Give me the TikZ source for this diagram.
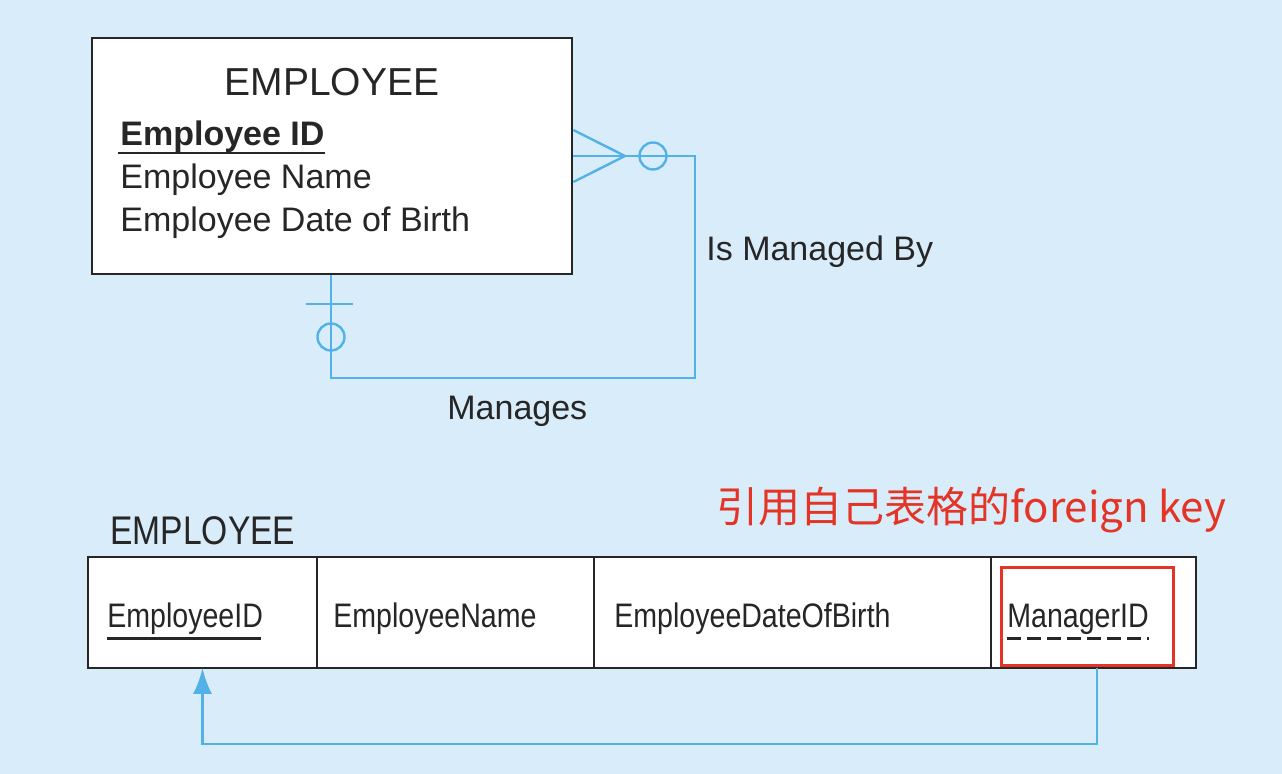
\documentclass[tikz,border=0pt]{standalone}
\usepackage{fontspec}
\setmainfont{Liberation Sans}
\newfontfamily\narrowsans[FakeStretch=0.84]{Liberation Sans}
\newfontfamily\cjk{Noto Sans CJK SC}
\usetikzlibrary{positioning,calc,arrows.meta}
\definecolor{bgblue}{RGB}{216,236,250}
\definecolor{relblue}{RGB}{82,178,232}
\definecolor{fkred}{RGB}{228,52,38}
\definecolor{ink}{RGB}{38,38,38}
\tikzset{
    every node/.style={text=ink},
    entity/.style={draw=ink, fill=white, line width=1.3pt, minimum width=240pt, minimum height=118pt},
    attr/.style={font=\fontsize{17}{20}\selectfont, inner sep=0pt, anchor=base west},
    rel/.style={draw=relblue, line width=1.2pt},
    ring/.style={circle, draw=relblue, line width=1.2pt, minimum size=13.5pt, inner sep=0pt},
    cell/.style={draw=ink, fill=white, line width=1.2pt, minimum height=55.5pt, outer sep=0pt, inner sep=0pt},
    celltext/.style={font=\narrowsans\fontsize{17}{20}\selectfont, inner sep=0pt, anchor=base west},
    fkbox/.style={draw=fkred, line width=1.5pt, minimum width=86pt, minimum height=49pt},
    arrow/.style={-{Latex[length=13pt, width=9.5pt]}, draw=relblue, line width=1.2pt},
}

\begin{document}
\begin{tikzpicture}[x=0.5pt, y=-0.5pt]
  \fill[bgblue] (0,0) rectangle (1282,774);
  \useasboundingbox (0,0) rectangle (1282,774);

  % ER diagram
  \coordinate (apex) at (625,156);
  \coordinate (bend) at (695,378);
  \draw[rel] (572,156) -- (apex);
  \draw[rel] (apex) -| (bend) -| (331,274);
  \node[entity] (emp) at (332,156) {};
  \draw[rel] ([yshift=13pt]emp.east) -- (apex) -- ([yshift=-13pt]emp.east);
  \node[ring] (many) at (653,156) {};
  \draw[rel] (306,304) -- (353,304);
  \node[ring] (one) at (331,337) {};
  \node[font=\fontsize{19.5}{22}\selectfont, inner sep=0pt, anchor=base] (title) at (332,96) {EMPLOYEE};
  \node[attr, font=\bfseries\fontsize{17}{20}\selectfont] (pk) at (120,146) {Employee ID};
  \draw[ink, line width=1.2pt] ([xshift=-1pt, yshift=-3.5pt]pk.base west) -- ([yshift=-3.5pt]pk.base east);
  \node[attr] (name) at (120,189) {Employee Name};
  \node[attr] (dob) at (120,232) {Employee Date of Birth};
  \node[attr] (isby) at (706,261) {Is Managed By};
  \node[attr] (mgs) at (447,420) {Manages};

  % relation
  \node[celltext, font=\narrowsans\fontsize{20}{24}\selectfont] (tbl) at (110,545) {EMPLOYEE};
  \node[cell, minimum width=114.5pt] (c1) at (202.5,612.5) {};
  \node[cell, minimum width=138.5pt, right=0pt of c1] (c2) {};
  \node[cell, minimum width=198.5pt, right=0pt of c2] (c3) {};
  \node[cell, minimum width=102.5pt, right=0pt of c3] (c4) {};
  \node[celltext] (id) at ($(c1.west)+(19,15)$) {EmployeeID};
  \draw[ink, line width=1.2pt] ([yshift=-5.5pt]id.base west) -- ([xshift=-1pt, yshift=-5.5pt]id.base east);
  \node[celltext] (ename) at ($(c2.west)+(16,15)$) {EmployeeName};
  \node[celltext] (edob) at ($(c3.west)+(20,15)$) {EmployeeDateOfBirth};
  \node[celltext] (mid) at ($(c4.west)+(16,15)$) {ManagerID};
  \draw[ink, line width=1.2pt, dash pattern=on 7pt off 3pt] ([yshift=-5.5pt]mid.base west) -- ([yshift=-5.5pt]mid.base east);
  \node[fkbox] (fk) at (1087,617) {};
  \node[text=fkred, font=\cjk\fontsize{21}{25}\selectfont, inner sep=0pt, anchor=base west] (note) at (716,523) {引用自己表格的foreign key};

  \coordinate (loop) at (650,744);
  \draw[arrow] ([xshift=1.75pt]c4.south) |- (loop) -| (c1.south);
\end{tikzpicture}
\end{document}
